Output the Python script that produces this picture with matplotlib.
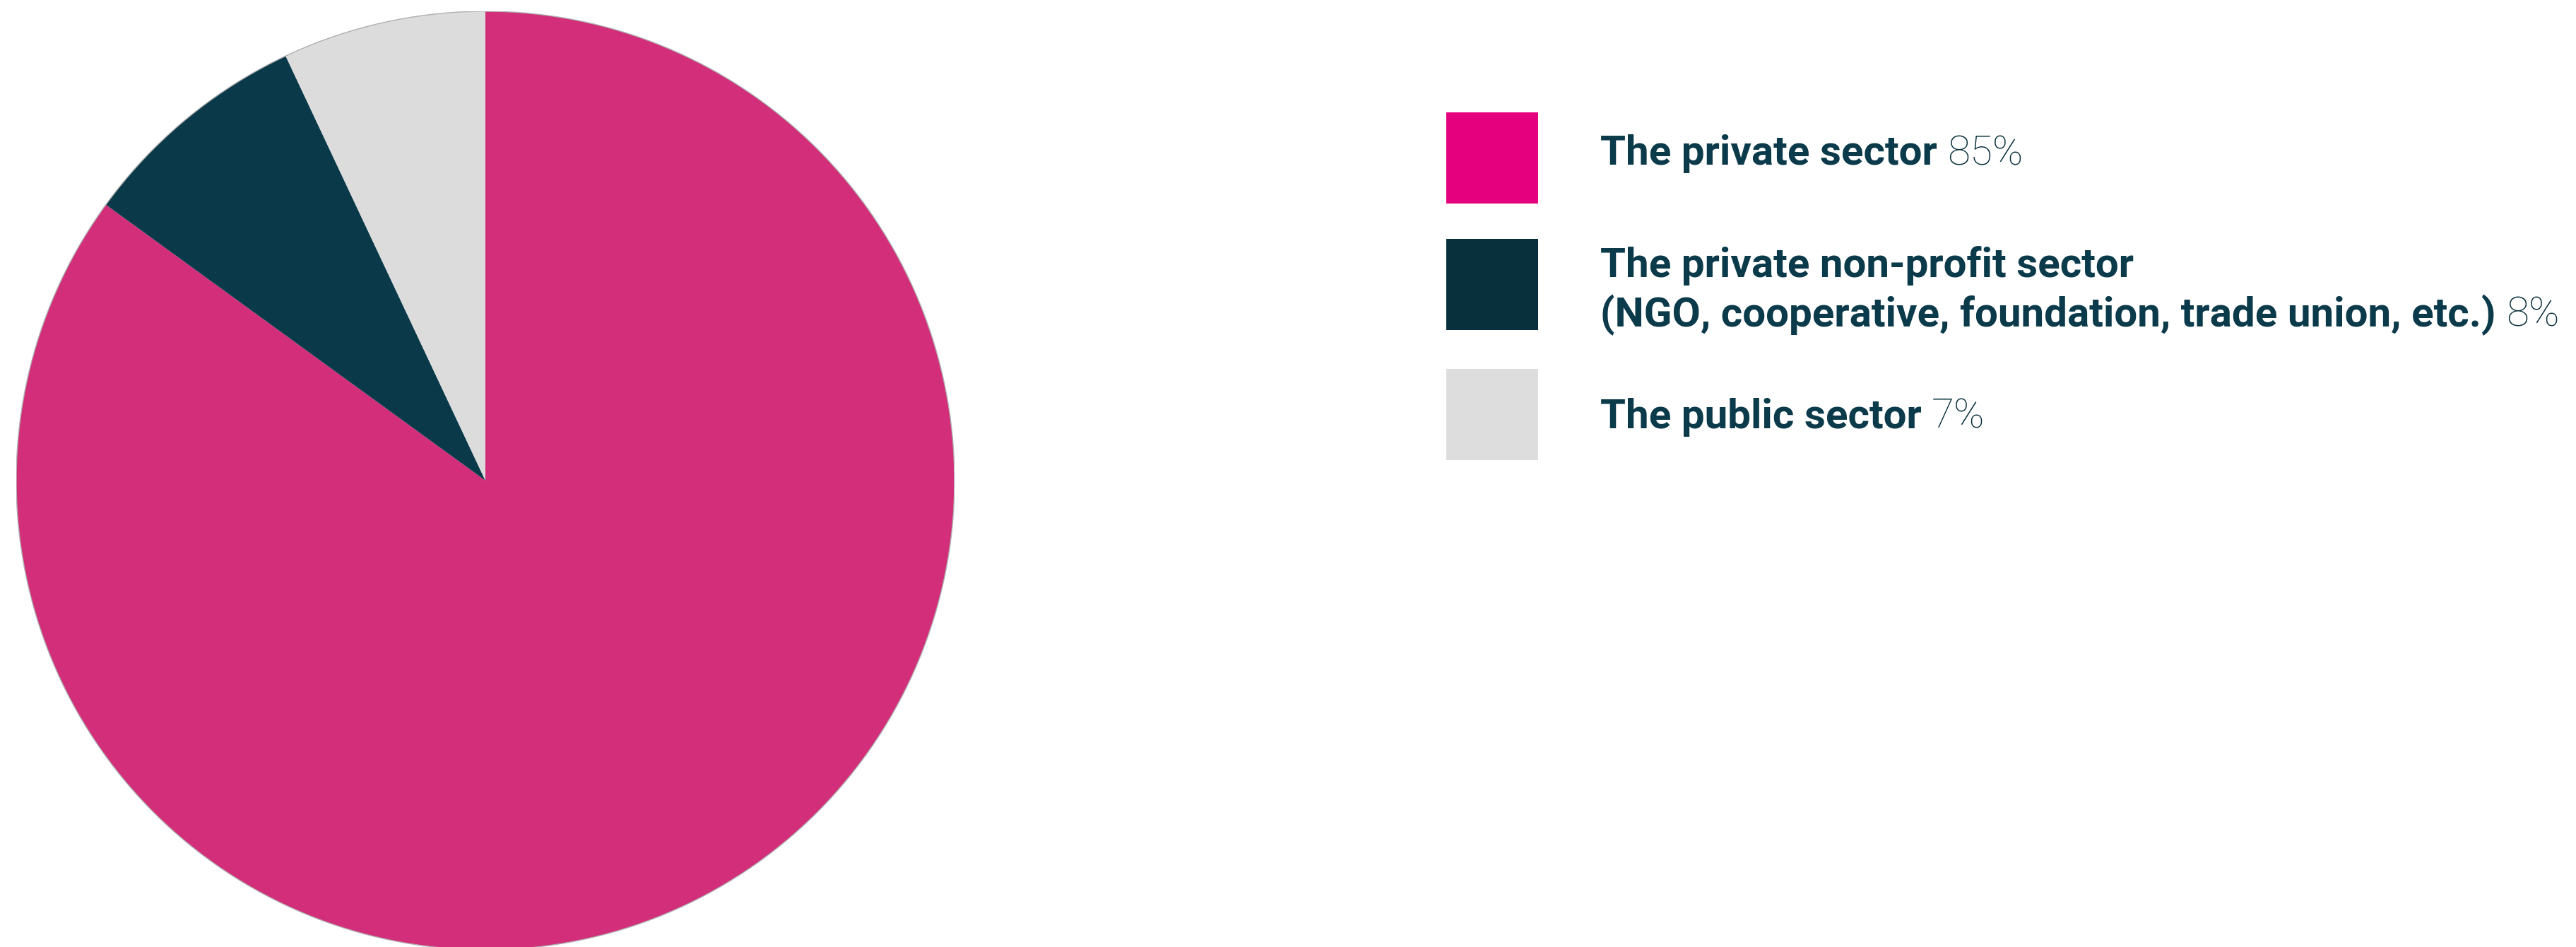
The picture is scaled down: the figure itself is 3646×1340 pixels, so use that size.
import matplotlib
matplotlib.use("Agg")
import matplotlib.pyplot as plt
from matplotlib.patches import Rectangle, Circle

# sector shares (%)
sectors = ["The private sector",
           "The private non-profit sector\n(NGO, cooperative, foundation, trade union, etc.)",
           "The public sector"]
shares = [85, 8, 7]
pie_colors = ["#d22e7a", "#0a3a4a", "#dcdcdc"]
key_colors = ["#e5007d", "#08303c", "#dddddd"]
text_color = "#0b3a4a"

W, H = 3646, 1340
fig = plt.figure(figsize=(W / 100, H / 100), dpi=100)

# pie: centre (687, 680) px, radius 664 px
cx, cy, r = 687, 680, 664
ax = fig.add_axes([(cx - r) / W, (H - cy - r) / H, 2 * r / W, 2 * r / H])
ax.pie(shares, colors=pie_colors, startangle=90, counterclock=False,
       radius=1, wedgeprops=dict(edgecolor="none", linewidth=0))
ax.add_patch(Circle((0, 0), 1, facecolor="none", edgecolor="#b0b0b0", linewidth=1.0))
ax.set_xlim(-1, 1)
ax.set_ylim(-1, 1)
ax.set_aspect("equal")
ax.axis("off")

# key drawn in pixel coordinates
lg = fig.add_axes([0, 0, 1, 1])
lg.set_xlim(0, W)
lg.set_ylim(H, 0)
lg.axis("off")

box_x, box_w = 2047, 130
box_tops = [159, 338, 522]
baselines = [[233], [392, 462], [606]]
text_x = 2265
fs = 42

fig.canvas.draw()
renderer = fig.canvas.get_renderer()
for name, val, col, top, bls in zip(sectors, shares, key_colors, box_tops, baselines):
    lg.add_patch(Rectangle((box_x, top), box_w, 129, facecolor=col, edgecolor="none"))
    lines = name.split("\n")
    last = None
    for line, bl in zip(lines, bls):
        last = lg.text(text_x, bl, line, fontsize=fs, fontweight="bold",
                       family="Roboto", color=text_color, va="baseline", ha="left")
    bb = last.get_window_extent(renderer=renderer)
    x_end = bb.x1 + 14
    lg.text(x_end, bls[-1], f"{val}%", fontsize=fs, fontweight="light",
            family="Roboto", color="#08303c", va="baseline", ha="left",
            transform=matplotlib.transforms.blended_transform_factory(
                matplotlib.transforms.IdentityTransform(), lg.transData))

fig.savefig("out.png", dpi=100)
